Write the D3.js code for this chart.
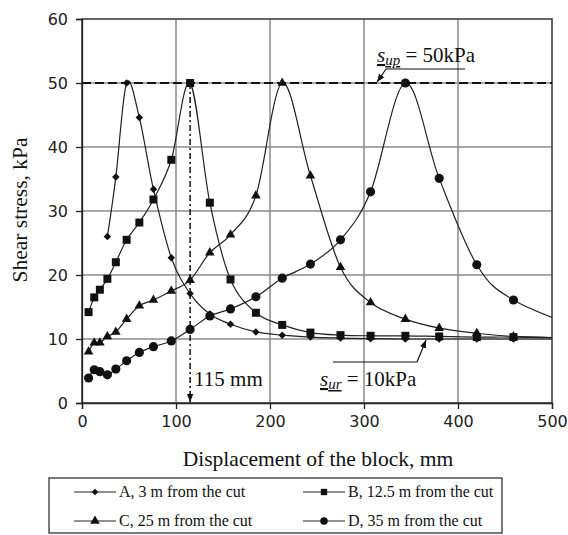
<!DOCTYPE html>
<html><head><meta charset="utf-8">
<script src="https://cdn.jsdelivr.net/npm/d3@7"></script>
<style>body{margin:0;background:#fff} svg{display:block}</style>
</head><body><svg id="c" width="568" height="535"></svg>
<script>
// ---- data ----
const displacement = [7, 13, 19, 27, 36, 47.5, 61, 76, 95, 115, 136, 158, 185, 213, 243, 275, 307, 344, 380, 420, 459, 540];
const seriesA = [null, null, null, 26, 35.3, 50, 44.6, 33.4, 22.7, 17.1, 13.9, 12.3, 11.1, 10.6, 10.3, 10.15, 10.05, 10, 10, 10, 10, 10];
const seriesB = [14.2, 16.5, 17.7, 19.4, 22, 25.5, 28.2, 31.8, 38, 50, 31.3, 19.3, 14.1, 12.2, 11.0, 10.6, 10.5, 10.5, 10.4, 10.3, 10.3, 10.1];
const seriesC = [8.0, 9.4, 9.4, 10.4, 11.1, 13.1, 15.2, 16.1, 17.5, 19.2, 23.5, 26.3, 32.4, 50, 35.5, 21.2, 15.7, 13.1, 11.7, 10.9, 10.4, 10.1];
const seriesD = [3.9, 5.2, 4.9, 4.4, 5.3, 6.6, 7.9, 8.8, 9.7, 11.5, 13.6, 14.7, 16.6, 19.5, 21.7, 25.5, 33, 50, 35.1, 21.6, 16.1, 11.2];
const seriesNames = ["A, 3 m from the cut", "B, 12.5 m from the cut", "C, 25 m from the cut", "D, 35 m from the cut"];
const xTicks = [0, 100, 200, 300, 400, 500];
const yTicks = [0, 10, 20, 30, 40, 50, 60];
const peakStress = 50, residualStress = 10, peakDisplacementB = 115;

// ---- drawing ----
const svg = d3.select("#c");
const x = d3.scaleLinear().domain([0, 500]).range([82, 552]);
const y = d3.scaleLinear().domain([0, 60]).range([403, 19]);
const serif = "'Liberation Serif','Times New Roman',serif";
const sans = "'DejaVu Sans',sans-serif";

svg.append("defs").html(`
 <clipPath id="plot"><rect x="${x(0)}" y="${y(60)}" width="${x(500)-x(0)}" height="${y(0)-y(60)}"/></clipPath>
 <marker id="arr" viewBox="0 0 10 10" refX="10" refY="5" markerWidth="8" markerHeight="8" orient="auto-start-reverse" markerUnits="userSpaceOnUse"><path d="M0,1 L10,5 L0,9 z" fill="#111"/></marker>
`);

// grid
const g = svg.append("g");
g.selectAll(".hg").data(yTicks.filter(d => d > 0 && d < 60)).join("line")
 .attr("x1", x(0)).attr("x2", x(500)).attr("y1", d => y(d)).attr("y2", d => y(d))
 .attr("stroke", "#8a8a8a").attr("stroke-width", 1.5);
g.selectAll(".vg").data(xTicks.filter(d => d > 0 && d < 500)).join("line")
 .attr("y1", y(0)).attr("y2", y(60)).attr("x1", d => x(d)).attr("x2", d => x(d))
 .attr("stroke", "#8a8a8a").attr("stroke-width", 1.5);

// border
svg.append("rect").attr("x", x(0)).attr("y", y(60)).attr("width", x(500) - x(0)).attr("height", y(0) - y(60))
 .attr("fill", "none").attr("stroke", "#333").attr("stroke-width", 1.5);

// axes
const xa = svg.append("g").attr("transform", `translate(0,${y(0)})`)
 .call(d3.axisBottom(x).tickValues(xTicks).tickSize(6).tickPadding(7));
const ya = svg.append("g").attr("transform", `translate(${x(0)},0)`)
 .call(d3.axisLeft(y).tickValues(yTicks).tickSize(6).tickPadding(8));
[xa, ya].forEach(a => {
  a.selectAll("path,line").attr("stroke", "#222").attr("stroke-width", 1.3);
  a.selectAll("text").attr("font-family", sans).attr("font-size", 16).attr("fill", "#222");
});

// reference lines
svg.append("line").attr("x1", x(0)).attr("x2", x(500)).attr("y1", y(peakStress)).attr("y2", y(peakStress))
 .attr("stroke", "#111").attr("stroke-width", 2).attr("stroke-dasharray", "9,4");
svg.append("line").attr("x1", x(peakDisplacementB)).attr("x2", x(peakDisplacementB))
 .attr("y1", y(peakStress)).attr("y2", y(0) - 1)
 .attr("stroke", "#111").attr("stroke-width", 1.5).attr("stroke-dasharray", "6,3,2,3")
 .attr("marker-end", "url(#arr)");

// series
const diamond = {draw(ctx, size){const r = Math.sqrt(size/2); ctx.moveTo(0,-r); ctx.lineTo(r,0); ctx.lineTo(0,r); ctx.lineTo(-r,0); ctx.closePath();}};
const symbols = [d3.symbol(diamond, 28), d3.symbol(d3.symbolSquare, 64), d3.symbol(d3.symbolTriangle, 40), d3.symbol(d3.symbolCircle, 66)];
const allSeries = [seriesA, seriesB, seriesC, seriesD];
const line = d3.line().defined(d => d[1] != null).x(d => x(d[0])).y(d => y(d[1])).curve(d3.curveCardinal.tension(0));
const plot = svg.append("g").attr("clip-path", "url(#plot)");
allSeries.forEach((s, i) => {
  const pts = displacement.map((d, j) => [d, s[j]]).filter(p => p[1] != null);
  plot.append("path").datum(pts).attr("d", line).attr("fill", "none").attr("stroke", "#222").attr("stroke-width", 1.2);
  plot.selectAll(null).data(pts).join("path").attr("d", symbols[i])
   .attr("transform", d => `translate(${x(d[0])},${y(d[1])})`).attr("fill", "#111");
});

// annotations
svg.append("text").attr("x", x(peakDisplacementB) + 4).attr("y", 386).attr("font-family", serif).attr("font-size", 21)
 .attr("fill", "#111").text(peakDisplacementB + " mm");

function sLabel(tx, ty, sub, val){
  const t = svg.append("text").attr("x", tx).attr("y", ty).attr("font-family", serif).attr("font-size", 21).attr("fill", "#111");
  t.append("tspan").attr("font-style", "italic").attr("text-decoration", "underline").text("s");
  t.append("tspan").attr("font-style", "italic").attr("text-decoration", "underline").attr("font-size", 15).attr("dy", 3).text(sub);
  t.append("tspan").attr("dy", -3).text(" = " + val + "kPa");
}
sLabel(377, 62, "up", peakStress);
sLabel(320, 386, "ur", residualStress);
svg.append("path").attr("d", `M465,69 L386,69 L${x(314)},${y(peakStress) - 1}`).attr("fill", "none")
 .attr("stroke", "#111").attr("stroke-width", 1.2).attr("marker-end", "url(#arr)");
svg.append("path").attr("d", `M333,362 L417,362 L${x(366)},${y(residualStress) + 1}`).attr("fill", "none")
 .attr("stroke", "#111").attr("stroke-width", 1.2).attr("marker-end", "url(#arr)");

// axis titles
svg.append("text").attr("x", 318).attr("y", 466).attr("text-anchor", "middle").attr("font-family", serif)
 .attr("font-size", 21.5).attr("fill", "#111").text("Displacement of the block, mm");
svg.append("text").attr("transform", "translate(27,210) rotate(-90)").attr("text-anchor", "middle").attr("font-family", serif)
 .attr("font-size", 21.5).attr("fill", "#111").text("Shear stress, kPa");

// legend
const lg = svg.append("g");
lg.append("rect").attr("x", 49).attr("y", 478).attr("width", 453).attr("height", 55).attr("fill", "#fff").attr("stroke", "#333").attr("stroke-width", 1.3);
const legPos = [[74, 492], [303, 492], [74, 521], [303, 521]];
seriesNames.forEach((n, i) => {
  const [lx, ly] = legPos[i];
  lg.append("line").attr("x1", lx).attr("x2", lx + 42).attr("y1", ly).attr("y2", ly).attr("stroke", "#222").attr("stroke-width", 1.2);
  lg.append("path").attr("d", symbols[i].size(i === 0 ? 22 : i === 3 ? 45 : 40)).attr("transform", `translate(${lx + 21},${ly})`).attr("fill", "#111");
  lg.append("text").attr("x", lx + 45).attr("y", ly + 5).attr("font-family", serif).attr("font-size", 16).attr("fill", "#111").text(n);
});
</script></body></html>
